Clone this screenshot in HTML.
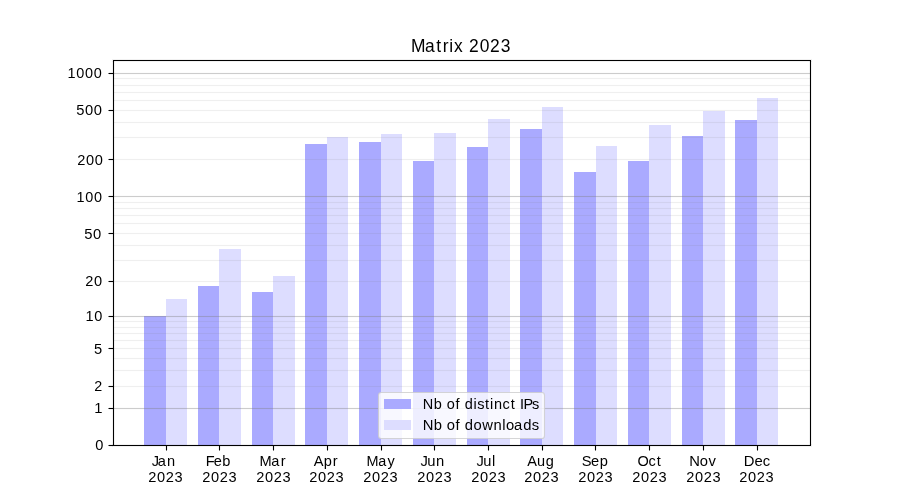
<!DOCTYPE html>
<html><head><meta charset="utf-8"><title>Matrix 2023</title><style>html,body{margin:0;padding:0;background:#fff;overflow:hidden;width:900px;height:500px}svg{display:block;will-change:transform}</style></head>
<body>
<svg width="900" height="500" viewBox="0 0 900 500">
<g shape-rendering="crispEdges">
<rect x="0" y="0" width="900" height="500" fill="#fff"/>
<rect x="144" y="316" width="22" height="129" fill="#aaaaff"/>
<rect x="166" y="299" width="21" height="146" fill="#ddddff"/>
<rect x="198" y="286" width="21" height="159" fill="#aaaaff"/>
<rect x="219" y="249" width="22" height="196" fill="#ddddff"/>
<rect x="252" y="292" width="21" height="153" fill="#aaaaff"/>
<rect x="273" y="276" width="22" height="169" fill="#ddddff"/>
<rect x="305" y="144" width="22" height="301" fill="#aaaaff"/>
<rect x="327" y="137" width="21" height="308" fill="#ddddff"/>
<rect x="359" y="142" width="22" height="303" fill="#aaaaff"/>
<rect x="381" y="134" width="21" height="311" fill="#ddddff"/>
<rect x="413" y="161" width="21" height="284" fill="#aaaaff"/>
<rect x="434" y="133" width="22" height="312" fill="#ddddff"/>
<rect x="467" y="147" width="21" height="298" fill="#aaaaff"/>
<rect x="488" y="119" width="22" height="326" fill="#ddddff"/>
<rect x="520" y="129" width="22" height="316" fill="#aaaaff"/>
<rect x="542" y="107" width="21" height="338" fill="#ddddff"/>
<rect x="574" y="172" width="22" height="273" fill="#aaaaff"/>
<rect x="596" y="146" width="21" height="299" fill="#ddddff"/>
<rect x="628" y="161" width="21" height="284" fill="#aaaaff"/>
<rect x="649" y="125" width="22" height="320" fill="#ddddff"/>
<rect x="682" y="136" width="21" height="309" fill="#aaaaff"/>
<rect x="703" y="111" width="22" height="334" fill="#ddddff"/>
<rect x="735" y="120" width="22" height="325" fill="#aaaaff"/>
<rect x="757" y="98" width="21" height="347" fill="#ddddff"/>
<rect x="113" y="77" width="697" height="1" fill="#808080" fill-opacity="0.01"/>
<rect x="113" y="78" width="697" height="1" fill="#808080" fill-opacity="0.125"/>
<rect x="113" y="79" width="697" height="1" fill="#808080" fill-opacity="0.01"/>
<rect x="113" y="84" width="697" height="1" fill="#808080" fill-opacity="0.01"/>
<rect x="113" y="85" width="697" height="1" fill="#808080" fill-opacity="0.125"/>
<rect x="113" y="86" width="697" height="1" fill="#808080" fill-opacity="0.01"/>
<rect x="113" y="91" width="697" height="1" fill="#808080" fill-opacity="0.01"/>
<rect x="113" y="92" width="697" height="1" fill="#808080" fill-opacity="0.125"/>
<rect x="113" y="93" width="697" height="1" fill="#808080" fill-opacity="0.01"/>
<rect x="113" y="99" width="697" height="1" fill="#808080" fill-opacity="0.01"/>
<rect x="113" y="100" width="697" height="1" fill="#808080" fill-opacity="0.125"/>
<rect x="113" y="101" width="697" height="1" fill="#808080" fill-opacity="0.01"/>
<rect x="113" y="109" width="697" height="1" fill="#808080" fill-opacity="0.01"/>
<rect x="113" y="110" width="697" height="1" fill="#808080" fill-opacity="0.125"/>
<rect x="113" y="111" width="697" height="1" fill="#808080" fill-opacity="0.01"/>
<rect x="113" y="121" width="697" height="1" fill="#808080" fill-opacity="0.01"/>
<rect x="113" y="122" width="697" height="1" fill="#808080" fill-opacity="0.125"/>
<rect x="113" y="123" width="697" height="1" fill="#808080" fill-opacity="0.01"/>
<rect x="113" y="136" width="697" height="1" fill="#808080" fill-opacity="0.01"/>
<rect x="113" y="137" width="697" height="1" fill="#808080" fill-opacity="0.125"/>
<rect x="113" y="138" width="697" height="1" fill="#808080" fill-opacity="0.01"/>
<rect x="113" y="158" width="697" height="1" fill="#808080" fill-opacity="0.01"/>
<rect x="113" y="159" width="697" height="1" fill="#808080" fill-opacity="0.125"/>
<rect x="113" y="160" width="697" height="1" fill="#808080" fill-opacity="0.01"/>
<rect x="113" y="201" width="697" height="1" fill="#808080" fill-opacity="0.01"/>
<rect x="113" y="202" width="697" height="1" fill="#808080" fill-opacity="0.125"/>
<rect x="113" y="203" width="697" height="1" fill="#808080" fill-opacity="0.01"/>
<rect x="113" y="207" width="697" height="1" fill="#808080" fill-opacity="0.01"/>
<rect x="113" y="208" width="697" height="1" fill="#808080" fill-opacity="0.125"/>
<rect x="113" y="209" width="697" height="1" fill="#808080" fill-opacity="0.01"/>
<rect x="113" y="214" width="697" height="1" fill="#808080" fill-opacity="0.01"/>
<rect x="113" y="215" width="697" height="1" fill="#808080" fill-opacity="0.125"/>
<rect x="113" y="216" width="697" height="1" fill="#808080" fill-opacity="0.01"/>
<rect x="113" y="222" width="697" height="1" fill="#808080" fill-opacity="0.01"/>
<rect x="113" y="223" width="697" height="1" fill="#808080" fill-opacity="0.125"/>
<rect x="113" y="224" width="697" height="1" fill="#808080" fill-opacity="0.01"/>
<rect x="113" y="232" width="697" height="1" fill="#808080" fill-opacity="0.01"/>
<rect x="113" y="233" width="697" height="1" fill="#808080" fill-opacity="0.125"/>
<rect x="113" y="234" width="697" height="1" fill="#808080" fill-opacity="0.01"/>
<rect x="113" y="244" width="697" height="1" fill="#808080" fill-opacity="0.01"/>
<rect x="113" y="245" width="697" height="1" fill="#808080" fill-opacity="0.125"/>
<rect x="113" y="246" width="697" height="1" fill="#808080" fill-opacity="0.01"/>
<rect x="113" y="259" width="697" height="1" fill="#808080" fill-opacity="0.01"/>
<rect x="113" y="260" width="697" height="1" fill="#808080" fill-opacity="0.125"/>
<rect x="113" y="261" width="697" height="1" fill="#808080" fill-opacity="0.01"/>
<rect x="113" y="280" width="697" height="1" fill="#808080" fill-opacity="0.01"/>
<rect x="113" y="281" width="697" height="1" fill="#808080" fill-opacity="0.125"/>
<rect x="113" y="282" width="697" height="1" fill="#808080" fill-opacity="0.01"/>
<rect x="113" y="320" width="697" height="1" fill="#808080" fill-opacity="0.01"/>
<rect x="113" y="321" width="697" height="1" fill="#808080" fill-opacity="0.125"/>
<rect x="113" y="322" width="697" height="1" fill="#808080" fill-opacity="0.01"/>
<rect x="113" y="326" width="697" height="1" fill="#808080" fill-opacity="0.01"/>
<rect x="113" y="327" width="697" height="1" fill="#808080" fill-opacity="0.125"/>
<rect x="113" y="328" width="697" height="1" fill="#808080" fill-opacity="0.01"/>
<rect x="113" y="332" width="697" height="1" fill="#808080" fill-opacity="0.01"/>
<rect x="113" y="333" width="697" height="1" fill="#808080" fill-opacity="0.125"/>
<rect x="113" y="334" width="697" height="1" fill="#808080" fill-opacity="0.01"/>
<rect x="113" y="339" width="697" height="1" fill="#808080" fill-opacity="0.01"/>
<rect x="113" y="340" width="697" height="1" fill="#808080" fill-opacity="0.125"/>
<rect x="113" y="341" width="697" height="1" fill="#808080" fill-opacity="0.01"/>
<rect x="113" y="347" width="697" height="1" fill="#808080" fill-opacity="0.01"/>
<rect x="113" y="348" width="697" height="1" fill="#808080" fill-opacity="0.125"/>
<rect x="113" y="349" width="697" height="1" fill="#808080" fill-opacity="0.01"/>
<rect x="113" y="357" width="697" height="1" fill="#808080" fill-opacity="0.01"/>
<rect x="113" y="358" width="697" height="1" fill="#808080" fill-opacity="0.125"/>
<rect x="113" y="359" width="697" height="1" fill="#808080" fill-opacity="0.01"/>
<rect x="113" y="369" width="697" height="1" fill="#808080" fill-opacity="0.01"/>
<rect x="113" y="370" width="697" height="1" fill="#808080" fill-opacity="0.125"/>
<rect x="113" y="371" width="697" height="1" fill="#808080" fill-opacity="0.01"/>
<rect x="113" y="385" width="697" height="1" fill="#808080" fill-opacity="0.01"/>
<rect x="113" y="386" width="697" height="1" fill="#808080" fill-opacity="0.125"/>
<rect x="113" y="387" width="697" height="1" fill="#808080" fill-opacity="0.01"/>
<rect x="113" y="72" width="697" height="1" fill="#808080" fill-opacity="0.024"/>
<rect x="113" y="73" width="697" height="1" fill="#808080" fill-opacity="0.4"/>
<rect x="113" y="74" width="697" height="1" fill="#808080" fill-opacity="0.024"/>
<rect x="113" y="195" width="697" height="1" fill="#808080" fill-opacity="0.024"/>
<rect x="113" y="196" width="697" height="1" fill="#808080" fill-opacity="0.4"/>
<rect x="113" y="197" width="697" height="1" fill="#808080" fill-opacity="0.024"/>
<rect x="113" y="315" width="697" height="1" fill="#808080" fill-opacity="0.024"/>
<rect x="113" y="316" width="697" height="1" fill="#808080" fill-opacity="0.4"/>
<rect x="113" y="317" width="697" height="1" fill="#808080" fill-opacity="0.024"/>
<rect x="113" y="407" width="697" height="1" fill="#808080" fill-opacity="0.024"/>
<rect x="113" y="408" width="697" height="1" fill="#808080" fill-opacity="0.4"/>
<rect x="113" y="409" width="697" height="1" fill="#808080" fill-opacity="0.024"/>
<rect x="112" y="59" width="700" height="1" fill="#000" fill-opacity="0.055"/>
<rect x="112" y="61" width="700" height="1" fill="#000" fill-opacity="0.055"/>
<rect x="112" y="444" width="700" height="1" fill="#000" fill-opacity="0.055"/>
<rect x="112" y="446" width="700" height="1" fill="#000" fill-opacity="0.055"/>
<rect x="112" y="60" width="1" height="386" fill="#000" fill-opacity="0.055"/>
<rect x="114" y="60" width="1" height="386" fill="#000" fill-opacity="0.055"/>
<rect x="809" y="60" width="1" height="386" fill="#000" fill-opacity="0.055"/>
<rect x="811" y="60" width="1" height="386" fill="#000" fill-opacity="0.055"/>
<rect x="113" y="60" width="698" height="1" fill="#000"/>
<rect x="113" y="445" width="698" height="1" fill="#000"/>
<rect x="113" y="60" width="1" height="386" fill="#000"/>
<rect x="810" y="60" width="1" height="386" fill="#000"/>
<rect x="109" y="445" width="4" height="1" fill="#000"/>
<rect x="108" y="445" width="1" height="1" fill="#000" fill-opacity="0.5"/>
<rect x="109" y="444" width="4" height="1" fill="#000" fill-opacity="0.055"/>
<rect x="109" y="446" width="4" height="1" fill="#000" fill-opacity="0.055"/>
<rect x="109" y="408" width="4" height="1" fill="#000"/>
<rect x="108" y="408" width="1" height="1" fill="#000" fill-opacity="0.5"/>
<rect x="109" y="407" width="4" height="1" fill="#000" fill-opacity="0.055"/>
<rect x="109" y="409" width="4" height="1" fill="#000" fill-opacity="0.055"/>
<rect x="109" y="386" width="4" height="1" fill="#000"/>
<rect x="108" y="386" width="1" height="1" fill="#000" fill-opacity="0.5"/>
<rect x="109" y="385" width="4" height="1" fill="#000" fill-opacity="0.055"/>
<rect x="109" y="387" width="4" height="1" fill="#000" fill-opacity="0.055"/>
<rect x="109" y="348" width="4" height="1" fill="#000"/>
<rect x="108" y="348" width="1" height="1" fill="#000" fill-opacity="0.5"/>
<rect x="109" y="347" width="4" height="1" fill="#000" fill-opacity="0.055"/>
<rect x="109" y="349" width="4" height="1" fill="#000" fill-opacity="0.055"/>
<rect x="109" y="316" width="4" height="1" fill="#000"/>
<rect x="108" y="316" width="1" height="1" fill="#000" fill-opacity="0.5"/>
<rect x="109" y="315" width="4" height="1" fill="#000" fill-opacity="0.055"/>
<rect x="109" y="317" width="4" height="1" fill="#000" fill-opacity="0.055"/>
<rect x="109" y="281" width="4" height="1" fill="#000"/>
<rect x="108" y="281" width="1" height="1" fill="#000" fill-opacity="0.5"/>
<rect x="109" y="280" width="4" height="1" fill="#000" fill-opacity="0.055"/>
<rect x="109" y="282" width="4" height="1" fill="#000" fill-opacity="0.055"/>
<rect x="109" y="233" width="4" height="1" fill="#000"/>
<rect x="108" y="233" width="1" height="1" fill="#000" fill-opacity="0.5"/>
<rect x="109" y="232" width="4" height="1" fill="#000" fill-opacity="0.055"/>
<rect x="109" y="234" width="4" height="1" fill="#000" fill-opacity="0.055"/>
<rect x="109" y="196" width="4" height="1" fill="#000"/>
<rect x="108" y="196" width="1" height="1" fill="#000" fill-opacity="0.5"/>
<rect x="109" y="195" width="4" height="1" fill="#000" fill-opacity="0.055"/>
<rect x="109" y="197" width="4" height="1" fill="#000" fill-opacity="0.055"/>
<rect x="109" y="159" width="4" height="1" fill="#000"/>
<rect x="108" y="159" width="1" height="1" fill="#000" fill-opacity="0.5"/>
<rect x="109" y="158" width="4" height="1" fill="#000" fill-opacity="0.055"/>
<rect x="109" y="160" width="4" height="1" fill="#000" fill-opacity="0.055"/>
<rect x="109" y="110" width="4" height="1" fill="#000"/>
<rect x="108" y="110" width="1" height="1" fill="#000" fill-opacity="0.5"/>
<rect x="109" y="109" width="4" height="1" fill="#000" fill-opacity="0.055"/>
<rect x="109" y="111" width="4" height="1" fill="#000" fill-opacity="0.055"/>
<rect x="109" y="73" width="4" height="1" fill="#000"/>
<rect x="108" y="73" width="1" height="1" fill="#000" fill-opacity="0.5"/>
<rect x="109" y="72" width="4" height="1" fill="#000" fill-opacity="0.055"/>
<rect x="109" y="74" width="4" height="1" fill="#000" fill-opacity="0.055"/>
<rect x="166" y="446" width="1" height="4" fill="#000"/>
<rect x="166" y="450" width="1" height="1" fill="#000" fill-opacity="0.5"/>
<rect x="165" y="446" width="1" height="4" fill="#000" fill-opacity="0.055"/>
<rect x="167" y="446" width="1" height="4" fill="#000" fill-opacity="0.055"/>
<rect x="219" y="446" width="1" height="4" fill="#000"/>
<rect x="219" y="450" width="1" height="1" fill="#000" fill-opacity="0.5"/>
<rect x="218" y="446" width="1" height="4" fill="#000" fill-opacity="0.055"/>
<rect x="220" y="446" width="1" height="4" fill="#000" fill-opacity="0.055"/>
<rect x="273" y="446" width="1" height="4" fill="#000"/>
<rect x="273" y="450" width="1" height="1" fill="#000" fill-opacity="0.5"/>
<rect x="272" y="446" width="1" height="4" fill="#000" fill-opacity="0.055"/>
<rect x="274" y="446" width="1" height="4" fill="#000" fill-opacity="0.055"/>
<rect x="327" y="446" width="1" height="4" fill="#000"/>
<rect x="327" y="450" width="1" height="1" fill="#000" fill-opacity="0.5"/>
<rect x="326" y="446" width="1" height="4" fill="#000" fill-opacity="0.055"/>
<rect x="328" y="446" width="1" height="4" fill="#000" fill-opacity="0.055"/>
<rect x="381" y="446" width="1" height="4" fill="#000"/>
<rect x="381" y="450" width="1" height="1" fill="#000" fill-opacity="0.5"/>
<rect x="380" y="446" width="1" height="4" fill="#000" fill-opacity="0.055"/>
<rect x="382" y="446" width="1" height="4" fill="#000" fill-opacity="0.055"/>
<rect x="434" y="446" width="1" height="4" fill="#000"/>
<rect x="434" y="450" width="1" height="1" fill="#000" fill-opacity="0.5"/>
<rect x="433" y="446" width="1" height="4" fill="#000" fill-opacity="0.055"/>
<rect x="435" y="446" width="1" height="4" fill="#000" fill-opacity="0.055"/>
<rect x="488" y="446" width="1" height="4" fill="#000"/>
<rect x="488" y="450" width="1" height="1" fill="#000" fill-opacity="0.5"/>
<rect x="487" y="446" width="1" height="4" fill="#000" fill-opacity="0.055"/>
<rect x="489" y="446" width="1" height="4" fill="#000" fill-opacity="0.055"/>
<rect x="542" y="446" width="1" height="4" fill="#000"/>
<rect x="542" y="450" width="1" height="1" fill="#000" fill-opacity="0.5"/>
<rect x="541" y="446" width="1" height="4" fill="#000" fill-opacity="0.055"/>
<rect x="543" y="446" width="1" height="4" fill="#000" fill-opacity="0.055"/>
<rect x="595" y="446" width="1" height="4" fill="#000"/>
<rect x="595" y="450" width="1" height="1" fill="#000" fill-opacity="0.5"/>
<rect x="594" y="446" width="1" height="4" fill="#000" fill-opacity="0.055"/>
<rect x="596" y="446" width="1" height="4" fill="#000" fill-opacity="0.055"/>
<rect x="649" y="446" width="1" height="4" fill="#000"/>
<rect x="649" y="450" width="1" height="1" fill="#000" fill-opacity="0.5"/>
<rect x="648" y="446" width="1" height="4" fill="#000" fill-opacity="0.055"/>
<rect x="650" y="446" width="1" height="4" fill="#000" fill-opacity="0.055"/>
<rect x="703" y="446" width="1" height="4" fill="#000"/>
<rect x="703" y="450" width="1" height="1" fill="#000" fill-opacity="0.5"/>
<rect x="702" y="446" width="1" height="4" fill="#000" fill-opacity="0.055"/>
<rect x="704" y="446" width="1" height="4" fill="#000" fill-opacity="0.055"/>
<rect x="757" y="446" width="1" height="4" fill="#000"/>
<rect x="757" y="450" width="1" height="1" fill="#000" fill-opacity="0.5"/>
<rect x="756" y="446" width="1" height="4" fill="#000" fill-opacity="0.055"/>
<rect x="758" y="446" width="1" height="4" fill="#000" fill-opacity="0.055"/>
</g>
<rect x="378.5" y="392.5" width="166" height="46" rx="2.78" fill="#fff" fill-opacity="0.8" stroke="#ccc" stroke-opacity="0.8" stroke-width="1.11"/>
<g shape-rendering="crispEdges">
<rect x="384" y="399" width="27" height="10" fill="#aaaaff"/>
<rect x="384" y="420" width="27" height="10" fill="#ddddff"/>
</g>
<g font-family="'Liberation Sans', sans-serif" fill="#000">
<text id="t_title" transform="matrix(0.9975 0 0 1 0 0)" x="412.00 426.11 437.43 443.99 450.42 455.21 463.94 470.07 480.94 491.25 502.14" y="51.60" font-size="17.46">Matrix 2023</text>
<text id="t_y0" transform="matrix(1.0500 0 0 1 0 0)" x="90.61" y="449.55" font-size="13.89">0</text>
<text id="t_y1" transform="matrix(1.0658 0 0 1 0 0)" x="88.33" y="412.55" font-size="13.89">1</text>
<text id="t_y2" transform="matrix(1.0316 0 0 1 0 0)" x="91.27" y="390.55" font-size="13.89">2</text>
<text id="t_y5" transform="matrix(1.0578 0 0 1 0 0)" x="88.77" y="353.55" font-size="13.89">5</text>
<text id="t_y10" transform="matrix(1.0473 0 0 1 0 0)" x="81.54 90.09" y="320.55" font-size="13.89">10</text>
<text id="t_y20" transform="matrix(1.0500 0 0 1 0 0)" x="81.10 89.61" y="285.55" font-size="13.89">20</text>
<text id="t_y50" transform="matrix(1.0658 0 0 1 0 0)" x="78.99 87.25" y="238.55" font-size="13.89">50</text>
<text id="t_y100" transform="matrix(1.0395 0 0 1 0 0)" x="73.52 82.13 90.54" y="201.55" font-size="13.89">100</text>
<text id="t_y200" transform="matrix(1.0500 0 0 1 0 0)" x="73.48 81.99 90.33" y="164.55" font-size="13.89">200</text>
<text id="t_y500" transform="matrix(1.0605 0 0 1 0 0)" x="71.86 80.16 88.41" y="114.55" font-size="13.89">500</text>
<text id="t_y1000" transform="matrix(1.0421 0 0 1 0 0)" x="64.70 73.28 81.68 90.07" y="77.55" font-size="13.89">1000</text>
<text id="t_Jan" transform="matrix(1.0500 0 0 1 0 0)" x="144.53 150.14 159.02" y="465.65" font-size="13.89">Jan</text>
<text id="t_Jan2023" transform="matrix(1.0500 0 0 1 0 0)" x="141.10 149.61 157.77 166.30" y="481.55" font-size="13.89">2023</text>
<text id="t_Feb" transform="matrix(1.0500 0 0 1 0 0)" x="195.90 203.51 211.79" y="465.65" font-size="13.89">Feb</text>
<text id="t_Feb2023" transform="matrix(1.0500 0 0 1 0 0)" x="192.53 201.04 209.20 217.72" y="481.55" font-size="13.89">2023</text>
<text id="t_Mar" transform="matrix(1.0500 0 0 1 0 0)" x="247.05 258.25 267.43" y="465.65" font-size="13.89">Mar</text>
<text id="t_Mar2023" transform="matrix(1.0500 0 0 1 0 0)" x="243.96 252.47 260.63 269.15" y="481.55" font-size="13.89">2023</text>
<text id="t_Apr" transform="matrix(1.0500 0 0 1 0 0)" x="298.71 308.29 316.98" y="465.65" font-size="13.89">Apr</text>
<text id="t_Apr2023" transform="matrix(1.0500 0 0 1 0 0)" x="294.44 302.94 311.10 319.63" y="481.55" font-size="13.89">2023</text>
<text id="t_May" transform="matrix(1.0395 0 0 1 0 0)" x="352.54 363.84 372.88" y="465.65" font-size="13.89">May</text>
<text id="t_May2023" transform="matrix(1.0500 0 0 1 0 0)" x="345.87 354.37 362.53 371.06" y="481.55" font-size="13.89">2023</text>
<text id="t_Jun" transform="matrix(1.0658 0 0 1 0 0)" x="394.66 400.77 409.04" y="465.65" font-size="13.89">Jun</text>
<text id="t_Jun2023" transform="matrix(1.0500 0 0 1 0 0)" x="397.29 405.80 413.96 422.49" y="481.55" font-size="13.89">2023</text>
<text id="t_Jul" transform="matrix(1.0553 0 0 1 0 0)" x="451.64 457.82 466.12" y="465.65" font-size="13.89">Jul</text>
<text id="t_Jul2023" transform="matrix(1.0500 0 0 1 0 0)" x="448.72 457.23 465.39 473.92" y="481.55" font-size="13.89">2023</text>
<text id="t_Aug" transform="matrix(1.0474 0 0 1 0 0)" x="503.34 512.82 521.13" y="465.65" font-size="13.89">Aug</text>
<text id="t_Aug2023" transform="matrix(1.0500 0 0 1 0 0)" x="499.20 507.71 515.87 524.39" y="481.55" font-size="13.89">2023</text>
<text id="t_Sep" transform="matrix(1.0553 0 0 1 0 0)" x="551.17 560.06 568.29" y="465.65" font-size="13.89">Sep</text>
<text id="t_Sep2023" transform="matrix(1.0500 0 0 1 0 0)" x="550.63 559.14 567.29 575.82" y="481.55" font-size="13.89">2023</text>
<text id="t_Oct" transform="matrix(1.0474 0 0 1 0 0)" x="608.60 619.18 627.08" y="465.65" font-size="13.89">Oct</text>
<text id="t_Oct2023" transform="matrix(1.0500 0 0 1 0 0)" x="602.06 610.56 618.72 627.25" y="481.55" font-size="13.89">2023</text>
<text id="t_Nov" transform="matrix(1.0631 0 0 1 0 0)" x="648.27 658.29 666.55" y="465.65" font-size="13.89">Nov</text>
<text id="t_Nov2023" transform="matrix(1.0500 0 0 1 0 0)" x="653.48 661.99 670.15 678.68" y="481.55" font-size="13.89">2023</text>
<text id="t_Dec" transform="matrix(1.0685 0 0 1 0 0)" x="695.99 706.21 713.95" y="465.65" font-size="13.89">Dec</text>
<text id="t_Dec2023" transform="matrix(1.0500 0 0 1 0 0)" x="703.96 712.47 720.63 729.15" y="481.55" font-size="13.89">2023</text>
<text id="t_leg1" transform="matrix(1.0447 0 0 1 0 0)" x="404.73 415.15 422.87 427.60 436.11 439.97 444.77 453.30 456.79 464.17 469.10 472.88 480.90 488.81 492.67 497.66 501.05 509.31" y="408.55" font-size="13.89">Nb of distinct IPs</text>
<text id="t_leg2" transform="matrix(1.0658 0 0 1 0 0)" x="396.68 406.91 414.64 419.12 427.50 431.35 435.96 444.22 452.37 463.03 471.21 474.71 482.19 490.85 498.99" y="429.55" font-size="13.89">Nb of downloads</text>
</g>
</svg>
</body></html>
